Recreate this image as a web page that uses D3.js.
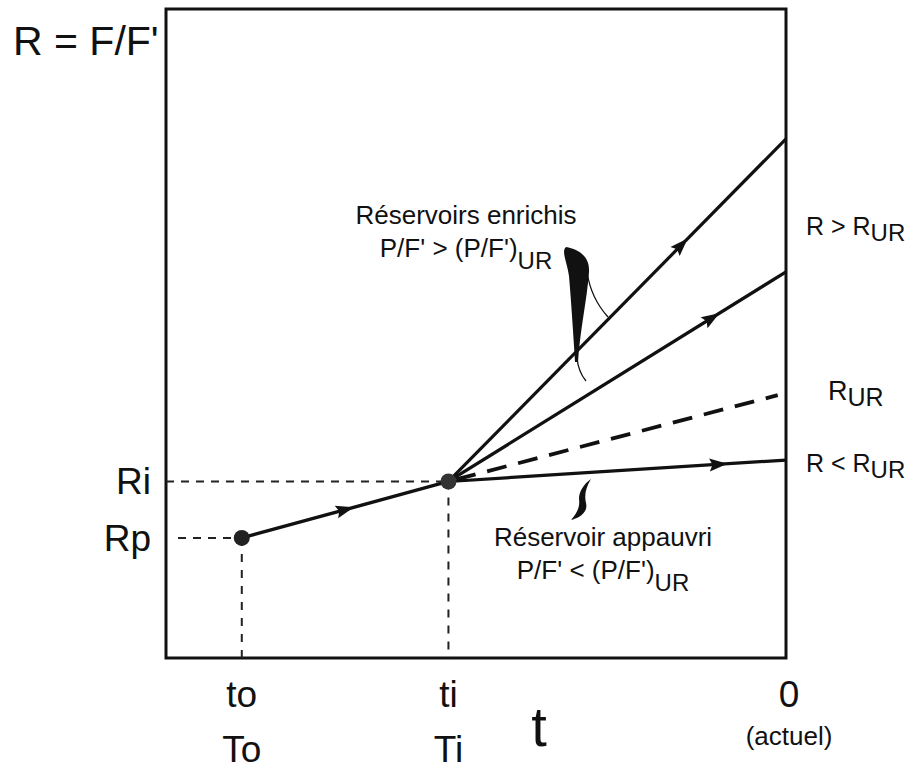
<!DOCTYPE html>
<html>
<head>
<meta charset="utf-8">
<script src="https://cdn.jsdelivr.net/npm/d3@7"></script>
<style>
  html, body { margin: 0; padding: 0; background: #fff; }
  svg { display: block; }
  text { font-family: "Liberation Sans", Arial, Helvetica, sans-serif; fill: #111; }
</style>
</head>
<body>
<svg id="chart" width="921" height="770"></svg>
<script>
// Time axis: origin to, isolation ti, present 0 (arbitrary units)
const timeKeys = ["to", "ti", "0"];
const timeValues = [-3.95, -2.45, 0];
const timeLabelsUpper = ["to", "ti", "0"];
const timeLabelsLower = ["To", "Ti", "(actuel)"];

// Ratio axis: primordial and initial ratios
const ratioLabels = ["Rp", "Ri"];
const ratioValues = [1.85, 2.72];

// Present-day ratios reached from Ri by each reservoir type
const pathNames = ["enrichi fort", "enrichi", "UR", "appauvri"];
const pathEndValues = [8.0, 5.95, 4.05, 3.05];
const pathEndTimes = [0, 0, -0.06, 0];
const pathDashed = [false, false, true, false];
const pathArrowAt = [0.69, 0.78, null, 0.80];

// Right-hand labels: main text, subscript, ratio value they sit beside
const rightMain = ["R > R", "R", "R < R"];
const rightSub = ["UR", "UR", "UR"];
const rightAt = [6.65, 4.12, 3.0];

const svg = d3.select("#chart");
const x = d3.scaleLinear().domain([-4.5, 0]).range([166, 786]);
const y = d3.scaleLinear().domain([0, 10]).range([658, 9]);

const tO = timeValues[0], tI = timeValues[1];
const rP = ratioValues[0], rI = ratioValues[1];

// Frame
svg.append("rect")
  .attr("x", x.range()[0]).attr("y", y.range()[1])
  .attr("width", x.range()[1] - x.range()[0])
  .attr("height", y.range()[0] - y.range()[1])
  .attr("fill", "none").attr("stroke", "#111").attr("stroke-width", 3);

// Dashed guides
const guide = svg.append("g").attr("fill", "none").attr("stroke", "#222").attr("stroke-width", 2);
guide.append("line").attr("x1", x.range()[0]).attr("x2", x(tI))
  .attr("y1", y(rI)).attr("y2", y(rI)).attr("stroke-dasharray", "8,7");
guide.append("line").attr("x1", x.range()[0] + 12).attr("x2", x(tO))
  .attr("y1", y(rP)).attr("y2", y(rP)).attr("stroke-dasharray", "8,7");
guide.append("line").attr("x1", x(tO)).attr("x2", x(tO))
  .attr("y1", y(rP)).attr("y2", y.range()[0]).attr("stroke-dasharray", "8,8");
guide.append("line").attr("x1", x(tI)).attr("x2", x(tI))
  .attr("y1", y(rI)).attr("y2", y.range()[0]).attr("stroke-dasharray", "8,8");

// Arrowhead on a segment at fraction f
function arrow(x1, y1, x2, y2, f) {
  const px = x1 + (x2 - x1) * f, py = y1 + (y2 - y1) * f;
  const ang = Math.atan2(y2 - y1, x2 - x1) * 180 / Math.PI;
  svg.append("path")
    .attr("d", "M9,0 L-9,-6.5 L-6,0 L-9,6.5 Z")
    .attr("transform", `translate(${px},${py}) rotate(${ang})`)
    .attr("fill", "#111");
}

const lines = svg.append("g").attr("fill", "none").attr("stroke", "#111");

// Evolution from Rp to Ri
lines.append("line")
  .attr("x1", x(tO)).attr("y1", y(rP)).attr("x2", x(tI)).attr("y2", y(rI))
  .attr("stroke-width", 3.4);
arrow(x(tO), y(rP), x(tI), y(rI), 0.5);

// Evolution after Ri
pathNames.forEach((name, i) => {
  const ln = lines.append("line")
    .attr("x1", x(tI)).attr("y1", y(rI))
    .attr("x2", x(pathEndTimes[i])).attr("y2", y(pathEndValues[i]))
    .attr("stroke-width", pathDashed[i] ? 3.8 : 3.2);
  if (pathDashed[i]) ln.attr("stroke-dasharray", "20,12").attr("stroke-dashoffset", -8);
  if (pathArrowAt[i] != null)
    arrow(x(tI), y(rI), x(pathEndTimes[i]), y(pathEndValues[i]), pathArrowAt[i]);
});

// Points
svg.append("circle").attr("cx", x(tO)).attr("cy", y(rP)).attr("r", 8).attr("fill", "#222");
svg.append("circle").attr("cx", x(tI)).attr("cy", y(rI)).attr("r", 8).attr("fill", "#333");

// Y title
svg.append("text").attr("x", 13).attr("y", 55).attr("font-size", 41).text("R = F/F'");

// Ratio labels
ratioLabels.forEach((lab, i) => {
  svg.append("text").attr("x", 151).attr("y", y(ratioValues[i]) + 13)
    .attr("text-anchor", "end").attr("font-size", 37).text(lab);
});

// Time labels
timeKeys.forEach((k, i) => {
  const cx = i === 2 ? 789 : x(timeValues[i]);
  svg.append("text").attr("x", cx).attr("y", 707).attr("text-anchor", "middle")
    .attr("font-size", 37).text(timeLabelsUpper[i]);
  svg.append("text").attr("x", cx).attr("y", i === 2 ? 745 : 762).attr("text-anchor", "middle")
    .attr("font-size", i === 2 ? 26 : 37).text(timeLabelsLower[i]);
});
svg.append("text").attr("x", 539).attr("y", 746).attr("text-anchor", "middle")
  .attr("font-size", 56).text("t");

// Right labels
rightMain.forEach((m, i) => {
  const t = svg.append("text").attr("x", i === 1 ? 828 : 806).attr("y", y(rightAt[i]) + 9)
    .attr("font-size", i === 1 ? 27 : 25);
  t.append("tspan").text(m);
  t.append("tspan").attr("dy", 6).attr("font-size", i === 1 ? 25 : 24).text(rightSub[i]);
});

// Annotations
function annot(cx, yb, title, sym) {
  svg.append("text").attr("x", cx).attr("y", yb).attr("text-anchor", "middle")
    .attr("font-size", 26).text(title);
  const t = svg.append("text").attr("x", cx).attr("y", yb + 33).attr("text-anchor", "middle")
    .attr("font-size", 26);
  t.append("tspan").text(`P/F' ${sym} (P/F')`);
  t.append("tspan").attr("dy", 12).attr("font-size", 24).text("UR");
}
annot(466, 224, "Réservoirs enrichis", ">");
annot(603, 546, "Réservoir appauvri", "<");

// Leader marks
svg.append("path")
  .attr("d", "M566,247 C578,249 590,256 589,272 C587,300 580,330 578,362 L575,362 C573,330 571,300 569,276 C567,262 561,251 566,247 Z")
  .attr("fill", "#111");
svg.append("path").attr("d", "M577,358 C578,368 581,375 586,381")
  .attr("fill", "none").attr("stroke", "#111").attr("stroke-width", 1.3);
svg.append("path").attr("d", "M587,272 C590,292 598,306 608,317")
  .attr("fill", "none").attr("stroke", "#111").attr("stroke-width", 1.3);
svg.append("path")
  .attr("d", "M591,479 C586,487 584,495 586,503 C588,511 582,517 571,520 C578,512 580,506 579,499 C579,491 584,484 591,479 Z")
  .attr("fill", "#111");
</script>
</body>
</html>
